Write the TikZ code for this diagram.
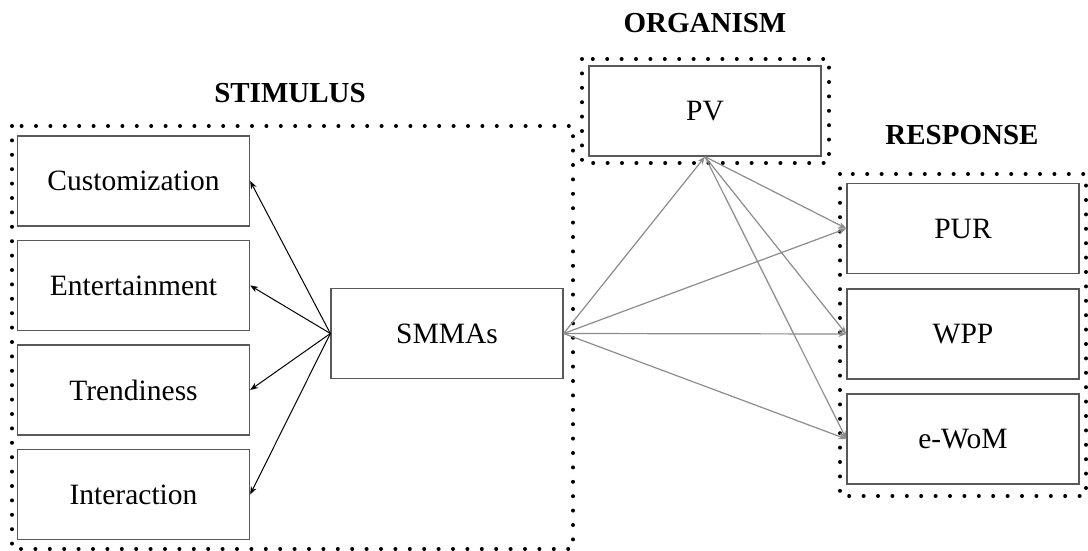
\documentclass[tikz,border=0pt]{standalone}
\usepackage{fontspec}
\setmainfont{Liberation Serif}
\usepackage{tikz}
\usetikzlibrary{arrows.meta}

\begin{document}
\begin{tikzpicture}[x=1pt,y=-1pt,
    box/.style={draw=black!65,line width=1.3pt,minimum width=232pt,minimum height=90pt,inner sep=0pt,font=\fontsize{29.5}{34}\selectfont},
    frame/.style={line width=4pt,line cap=round,dash pattern=on 0pt off 14.4pt},
    head/.style={font=\fontsize{29}{34}\selectfont\bfseries},
    link/.style={line width=1pt,-{Stealth[length=8pt,width=6pt]}},
    glink/.style={link,draw=black!45,line width=1.2pt}]
            \useasboundingbox (0,0) rectangle (1088,551);
            \draw[frame](12,126) rectangle (573,549);
            \draw[frame](582,59) rectangle (829,163);
            \draw[frame](840,174) rectangle (1086,496);
            \node[head](stim) at (290,93) {STIMULUS};
            \node[head](org) at (705,23) {ORGANISM};
            \node[head](resp) at (962,135) {RESPONSE};
            \node[box](cus) at (133.5,181) {Customization};
            \node[box](ent) at (133.5,285.5) {Entertainment};
            \node[box](tre) at (133.5,390) {Trendiness};
            \node[box](int) at (133.5,494.5) {Interaction};
            \node[box](smm) at (447,333.5) {SMMAs};
            \node[box](pv) at (705,111) {PV};
            \node[box](pur) at (963,228.5) {PUR};
            \node[box](wpp) at (963,334) {WPP};
            \node[box](wom) at (963,439) {e-WoM};
            \foreach \t in {cus,ent,tre,int}
                \draw[link](smm.west)--(\t.east);
            \foreach \t in {pv.south,pur.west,wpp.west,wom.west}
                \draw[glink](smm.east)--(\t);
            \foreach \t in {pur,wpp,wom}
                \draw[glink](pv.south)--(\t.west);
        \end{tikzpicture}
\end{document}
